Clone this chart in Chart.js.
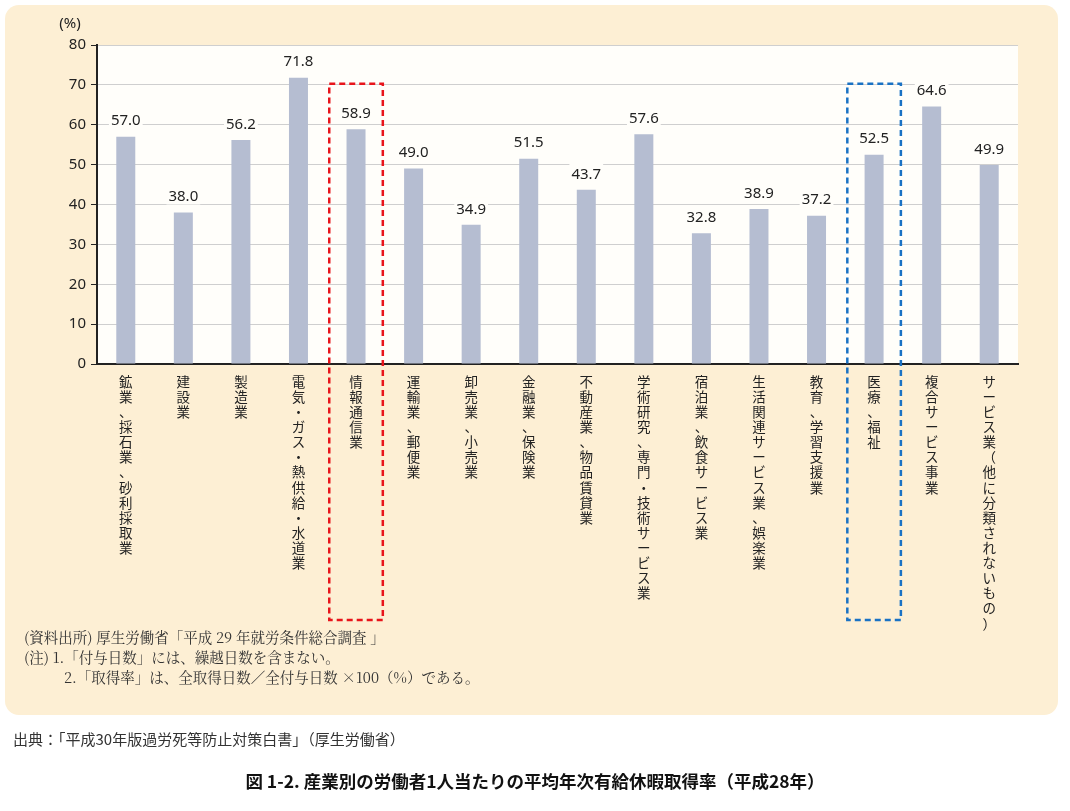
<!DOCTYPE html>
<html><head><meta charset="utf-8">
<script src="https://cdn.jsdelivr.net/npm/chart.js@4"></script>
<style>
body{margin:0;width:1070px;height:811px;background:#fff;font-family:"Noto Sans CJK JP",sans-serif;position:relative;overflow:hidden}
#panel{position:absolute;left:5px;top:5px;width:1053px;height:710px;background:#FDEFD4;border-radius:14px}
#c{position:absolute;left:0;top:0}
.note{position:absolute;left:24px;font-size:14.5px;color:#333;font-family:"Noto Serif CJK JP","Noto Sans CJK JP",serif}
#src{position:absolute;left:13px;top:728px;font-size:15px;color:#333}
#cap{position:absolute;left:0;width:1070px;top:768px;text-align:center;font-size:17.5px;font-weight:bold;color:#111}
</style></head><body>
<div id="panel"></div>
<canvas id="c" width="1070" height="811"></canvas>
<div class="note" style="top:626px">(資料出所) 厚生労働省「平成 29 年就労条件総合調査 」</div>
<div class="note" style="top:646px">(注) 1.「付与日数」には、繰越日数を含まない。</div>
<div class="note" style="top:666px;left:64px">2.「取得率」は、全取得日数／全付与日数 ×100（%）である。</div>
<div id="src">出典：「平成30年版過労死等防止対策白書」（厚生労働省）</div>
<div id="cap">図 1-2. 産業別の労働者1人当たりの平均年次有給休暇取得率（平成28年）</div>
<script>
const categories = ['鉱業、採石業、砂利採取業','建設業','製造業','電気・ガス・熱供給・水道業','情報通信業','運輸業、郵便業','卸売業、小売業','金融業、保険業','不動産業、物品賃貸業','学術研究、専門・技術サービス業','宿泊業、飲食サービス業','生活関連サービス業、娯楽業','教育、学習支援業','医療、福祉','複合サービス事業','サービス業（他に分類されないもの）'];
const rates = [57.0,38.0,56.2,71.8,58.9,49.0,34.9,51.5,43.7,57.6,32.8,38.9,37.2,52.5,64.6,49.9];
const yTicks = [0,10,20,30,40,50,60,70,80];
const highlights = [{index:4,color:'#E8141B'},{index:13,color:'#1A72C4'}];

const extras = {
  id:'extras',
  afterDatasetsDraw(chart){
    const {ctx, scales:{x,y}, chartArea} = chart;
    ctx.save();
    ctx.font = '15px "Noto Sans", sans-serif';
    ctx.textAlign = 'center';
    ctx.textBaseline = 'bottom';
    rates.forEach((v,i)=>{
      const px = x.getPixelForValue(i), py = y.getPixelForValue(v);
      ctx.fillStyle = 'rgba(255,254,250,1)';
      const w = ctx.measureText(v.toFixed(1)).width;
      ctx.fillRect(px-w/2-2, py-27, w+4, 19);
      ctx.fillStyle = '#222';
      ctx.fillText(v.toFixed(1), px, py-8);
    });
    ctx.font = '15px "Noto Sans", sans-serif';
    ctx.fillText('(%)', 70, chartArea.top-14);
    const step = x.getPixelForValue(1)-x.getPixelForValue(0);
    highlights.forEach(h=>{
      const cx = x.getPixelForValue(h.index);
      ctx.strokeStyle = h.color; ctx.lineWidth = 2.5; ctx.setLineDash([6,4]);
      ctx.strokeRect(cx-step/2+2, y.getPixelForValue(70.3), step-4, 620-y.getPixelForValue(70.3));
    });
    ctx.restore();
  }
};

new Chart(document.getElementById('c'), {
  type:'bar',
  data:{
    labels: categories.map(s=>s.split('')),
    datasets:[{data:rates, backgroundColor:'#B5BDD1', barPercentage:0.33, categoryPercentage:1}]
  },
  options:{
    responsive:false, animation:false,
    layout:{padding:{left:40,top:45,right:52,bottom:150}},
    plugins:{legend:{display:false}, tooltip:{enabled:false}},
    scales:{
      x:{
        afterFit(s){ s.height = 297; },
        grid:{display:true, drawOnChartArea:false, offset:true, tickLength:0, color:'#222'},
        border:{color:'#222', width:2},
        ticks:{autoSkip:false, maxRotation:0, padding:10, color:'#222', font:{family:'"Noto Sans CJK JP"', size:13.5, lineHeight:1.12}}
      },
      y:{
        min:0, max:80,
        afterFit(s){ s.width = 57; },
        afterBuildTicks(s){ s.ticks = yTicks.map(v=>({value:v})); },
        grid:{color:'#cfcfcf', tickLength:6, tickColor:'#222'},
        border:{color:'#222', width:2},
        ticks:{padding:5, color:'#222', font:{family:'"Noto Sans"', size:15}}
      }
    }
  },
  plugins:[{id:'bg',beforeDraw(chart){const {ctx,chartArea:a}=chart;ctx.save();ctx.fillStyle='#FFFEFA';ctx.fillRect(a.left,a.top,a.width,a.height);ctx.restore();}}, extras]
});
</script>
</body></html>
